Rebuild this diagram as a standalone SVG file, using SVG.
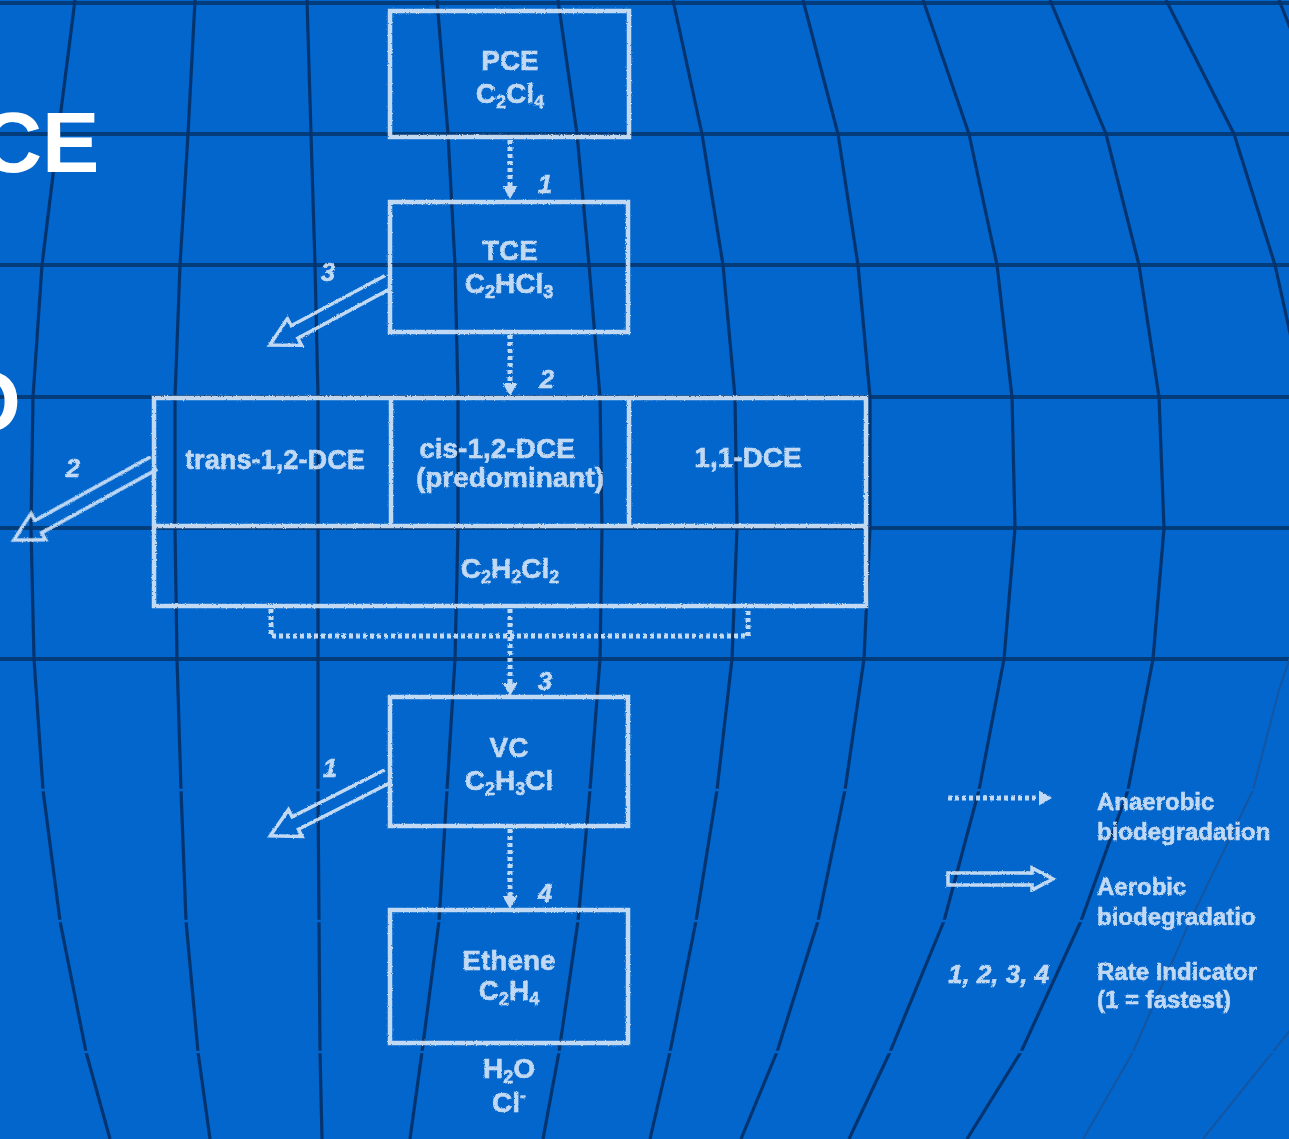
<svg xmlns="http://www.w3.org/2000/svg" width="1289" height="1139" viewBox="0 0 1289 1139">
<defs>
<style>
.vl{fill:none;stroke:#03346f;stroke-width:3.2;stroke-linejoin:round}
.vf{fill:none;stroke:#1456a2;stroke-width:2;stroke-linejoin:round}
.hl{stroke:#023c7b;stroke-width:4}
.gap{stroke:#0266cc;stroke-width:2.5}
.box{fill:none;stroke:#d8e7f8;stroke-width:4.5}
.dot{fill:none;stroke:#d8e7f8;stroke-width:5;stroke-dasharray:4 3}
.aer{fill:none;stroke:#d8e7f8;stroke-width:3.5;stroke-linejoin:miter}
.t{font-family:"Liberation Sans",Arial,sans-serif;font-weight:bold;font-size:28px;fill:#d8e7f8;stroke:#d8e7f8;stroke-width:0.5;text-anchor:middle}
.sub{font-size:18px}
.num{font-style:italic;font-size:26px}
.leg{font-size:24px;text-anchor:start}
.big{font-family:"Liberation Sans",Arial,sans-serif;font-weight:bold;font-size:86px;fill:#ffffff}
</style>
<marker id="ah" viewBox="0 0 13 15" markerWidth="13" markerHeight="15" refX="1" refY="7.5" orient="auto" markerUnits="userSpaceOnUse">
<path d="M0,0 L13,7.5 L0,15 Z" fill="#d8e7f8"/>
</marker>
<filter id="chalk" filterUnits="userSpaceOnUse" x="0" y="0" width="1289" height="1139">
<feTurbulence type="fractalNoise" baseFrequency="0.9" numOctaves="2" seed="4" result="n"/>
<feDisplacementMap in="SourceGraphic" in2="n" scale="2.5" xChannelSelector="R" yChannelSelector="G"/>
</filter>
</defs>
<rect width="1289" height="1139" fill="#0266cc"/>
<g id="grid">
<line class="hl" x1="0" y1="3" x2="1289" y2="3"/>
<line class="hl" x1="0" y1="134" x2="1289" y2="134"/>
<line class="hl" x1="0" y1="265" x2="1289" y2="265"/>
<line class="hl" x1="0" y1="397" x2="1289" y2="397"/>
<line class="hl" x1="0" y1="528" x2="1289" y2="528"/>
<line class="hl" x1="0" y1="659" x2="1289" y2="659"/>
<polyline class="vl" points="75,0 58,134 42,265 33,397 31,528 34,659 43,790 60,921 86,1052 110,1139"/>
<polyline class="vl" points="195,0 188,134 180,265 175,397 175,528 177,659 181,790 186,921 198,1052 210,1139"/>
<polyline class="vl" points="307,0 311,134 315,265 318,397 318,528 318,659 318,790 319,921 320,1052 322,1139"/>
<polyline class="vl" points="437,0 448,134 455,265 458,397 458,528 455,659 447,790 439,921 422,1052 410,1139"/>
<polyline class="vl" points="558,0 577,134 589,265 600,397 602,528 600,659 590,790 578,921 559,1052 543,1139"/>
<polyline class="vl" points="673,0 702,134 723,265 735,397 737,528 732,659 717,790 696,921 670,1052 650,1139"/>
<polyline class="vl" points="803,0 838,134 858,265 870,397 870,528 864,659 845,790 818,921 777,1052 741,1139"/>
<polyline class="vl" points="923,0 969,134 997,265 1012,397 1015,528 1004,659 979,790 944,921 890,1052 849,1139"/>
<polyline class="vl" points="1050,0 1106,134 1139,265 1159,397 1164,528 1153,659 1128,790 1081,921 1021,1052 967,1139"/>
<polyline class="vl" points="1166,0 1234,134 1275,265 1296,360"/>
<polyline class="vl" points="1279,0 1297,45"/>
<polyline class="vf" points="1296,640 1279,690 1253,790 1190,921 1133,1052 1083,1139"/>
<polyline class="vf" points="1300,1018 1203,1139"/>
<line class="gap" x1="0" y1="790" x2="1289" y2="790"/>
<line class="gap" x1="0" y1="921" x2="1289" y2="921"/>
<line class="gap" x1="0" y1="1052" x2="1289" y2="1052"/>
</g>
<g id="title-fragments">
<text class="big" x="-20" y="172">CE</text>
<text class="big" x="-46" y="431">O</text>
</g>
<g id="diagram" filter="url(#chalk)" opacity="0.9">
<g id="connectors">
<path class="dot" d="M510,140 V187" marker-end="url(#ah)"/>
<path class="dot" d="M510,335 V384" marker-end="url(#ah)"/>
<path class="dot" d="M271,609 V636 H748 V609"/>
<path class="dot" d="M510,609 V684" marker-end="url(#ah)"/>
<path class="dot" d="M510,829 V897" marker-end="url(#ah)"/>
<path class="aer" transform="translate(388,282) rotate(151.9)" d="M0,-7 L106,-7 L106,-15 L134,0 L106,15 L106,7 L0,7"/>
<path class="aer" transform="translate(154,463) rotate(151.2)" d="M0,-7 L132,-7 L132,-15 L160,0 L132,15 L132,7 L0,7"/>
<path class="aer" transform="translate(388,776) rotate(153.1)" d="M0,-7 L104,-7 L104,-15 L132,0 L104,15 L104,7 L0,7"/>
<text class="t num" x="545" y="193">1</text>
<text class="t num" x="547" y="388">2</text>
<text class="t num" x="545" y="690">3</text>
<text class="t num" x="545" y="902">4</text>
<text class="t num" x="328" y="281">3</text>
<text class="t num" x="73" y="477">2</text>
<text class="t num" x="330" y="777">1</text>
</g>
<g id="pce">
<rect class="box" x="390" y="11" width="239" height="126"/>
<text class="t" x="510" y="70">PCE</text>
<text class="t" x="510" y="103">C<tspan class="sub" dy="5">2</tspan><tspan dy="-5">Cl</tspan><tspan class="sub" dy="5">4</tspan></text>
</g>
<g id="tce">
<rect class="box" x="390" y="202" width="238" height="130"/>
<text class="t" x="510" y="260">TCE</text>
<text class="t" x="509" y="293">C<tspan class="sub" dy="5">2</tspan><tspan dy="-5">HCl</tspan><tspan class="sub" dy="5">3</tspan></text>
</g>
<g id="dce">
<rect class="box" x="154" y="398" width="712" height="208"/>
<line class="box" x1="154" y1="526" x2="866" y2="526"/>
<line class="box" x1="391" y1="398" x2="391" y2="526"/>
<line class="box" x1="629" y1="398" x2="629" y2="526"/>
<text class="t" x="275" y="469" textLength="180" lengthAdjust="spacingAndGlyphs">trans-1,2-DCE</text>
<text class="t" x="497" y="458">cis-1,2-DCE</text>
<text class="t" x="510" y="487">(predominant)</text>
<text class="t" x="748" y="467">1,1-DCE</text>
<text class="t" x="510" y="578">C<tspan class="sub" dy="5">2</tspan><tspan dy="-5">H</tspan><tspan class="sub" dy="5">2</tspan><tspan dy="-5">Cl</tspan><tspan class="sub" dy="5">2</tspan></text>
</g>
<g id="vc">
<rect class="box" x="390" y="697" width="238" height="129"/>
<text class="t" x="509" y="757">VC</text>
<text class="t" x="509" y="790">C<tspan class="sub" dy="5">2</tspan><tspan dy="-5">H</tspan><tspan class="sub" dy="5">3</tspan><tspan dy="-5">Cl</tspan></text>
</g>
<g id="ethene">
<rect class="box" x="390" y="910" width="238" height="133"/>
<text class="t" x="509" y="970">Ethene</text>
<text class="t" x="509" y="1000">C<tspan class="sub" dy="5">2</tspan><tspan dy="-5">H</tspan><tspan class="sub" dy="5">4</tspan></text>
</g>
<g id="products">
<text class="t" x="509" y="1078">H<tspan class="sub" dy="5">2</tspan><tspan dy="-5">O</tspan></text>
<text class="t" x="509" y="1112">Cl<tspan class="sub" dy="-10">-</tspan></text>
</g>
<g id="legend">
<path class="dot" d="M948,798 H1040" marker-end="url(#ah)"/>
<path class="aer" d="M948,873 L1032,873 L1032,868 L1053,879 L1032,890 L1032,885 L948,885 Z"/>
<text class="t num" x="948" y="983" style="text-anchor:start">1, 2, 3, 4</text>
<text class="t leg" x="1097" y="810">Anaerobic</text>
<text class="t leg" x="1097" y="840">biodegradation</text>
<text class="t leg" x="1097" y="895">Aerobic</text>
<text class="t leg" x="1097" y="925">biodegradatio</text>
<text class="t leg" x="1097" y="980">Rate Indicator</text>
<text class="t leg" x="1097" y="1008">(1 = fastest)</text>
</g>
</g>
</svg>
